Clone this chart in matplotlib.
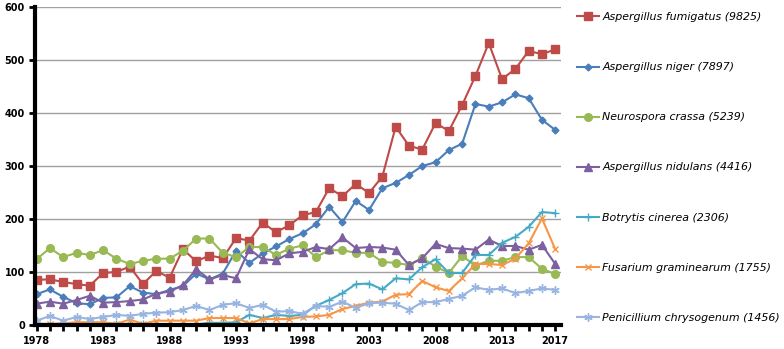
import numpy as np
import matplotlib
matplotlib.use("Agg")
import matplotlib.pyplot as plt

years = list(range(1978, 2018))

fumigatus = [85, 86, 81, 77, 74, 98, 100, 110, 77, 102, 89, 143, 120, 131, 126, 164, 159, 193, 175, 188,
             207, 213, 258, 243, 266, 249, 280, 374, 338, 331, 381, 366, 415, 470, 532, 464, 483, 517, 511, 520]
niger = [58, 67, 53, 41, 39, 51, 52, 73, 61, 58, 66, 73, 97, 86, 97, 140, 117, 135, 148, 162,
         173, 190, 223, 194, 234, 217, 258, 268, 283, 300, 307, 330, 342, 417, 412, 420, 435, 428, 387, 368]
crassa = [124, 145, 128, 136, 132, 141, 125, 115, 121, 125, 125, 140, 163, 163, 136, 128, 147, 147, 132, 144,
          150, 128, 141, 141, 136, 136, 119, 117, 113, 126, 110, 98, 130, 112, 121, 121, 128, 128, 106, 96]
nidulans = [40, 44, 40, 47, 55, 42, 43, 45, 48, 59, 63, 75, 105, 86, 94, 88, 143, 124, 122, 135,
            138, 147, 143, 165, 145, 147, 146, 142, 113, 126, 153, 145, 144, 142, 161, 149, 149, 142, 151, 115]
botrytis = [0, 0, 1, 1, 1, 2, 1, 2, 1, 1, 1, 1, 1, 4, 4, 5, 19, 13, 19, 17,
            19, 36, 47, 60, 77, 78, 67, 88, 86, 109, 124, 98, 98, 132, 132, 155, 166, 185, 213, 211]
fusarium = [2, 2, 3, 5, 5, 5, 2, 10, 2, 8, 8, 8, 8, 13, 13, 13, 3, 11, 11, 11,
            15, 16, 19, 30, 36, 42, 44, 57, 58, 83, 71, 64, 88, 115, 115, 113, 125, 154, 201, 143]
chrysogenum = [8, 17, 8, 15, 11, 15, 19, 17, 21, 23, 24, 28, 36, 28, 38, 41, 32, 38, 25, 26,
               21, 36, 34, 44, 32, 41, 42, 40, 28, 43, 43, 49, 55, 71, 66, 69, 60, 64, 69, 66]

labels = ["Aspergillus fumigatus (9825)", "Aspergillus niger (7897)", "Neurospora crassa (5239)",
          "Aspergillus nidulans (4416)", "Botrytis cinerea (2306)", "Fusarium graminearum (1755)",
          "Penicillium chrysogenum (1456)"]
xtick_years = [1978, 1983, 1988, 1993, 1998, 2003, 2008, 2013, 2017]

series = [fumigatus, niger, crassa, nidulans, botrytis, fusarium, chrysogenum]
colors = ["#BE4B48", "#4A7EBB", "#98B954", "#7D60A0", "#46AAC5", "#F79646", "#98B4E0"]
markers = ["s", "D", "o", "^", "+", "x", (6, 2, 0)]
msizes = [6, 3.5, 5.5, 5.5, 6, 5, 6]

fig = plt.figure(figsize=(7.84, 3.49), dpi=100)
ax = fig.add_axes([0.045, 0.069, 0.67, 0.911])

for vals, lab, c, m, ms in zip(series, labels, colors, markers, msizes):
    ax.plot(years, vals, color=c, marker=m, markersize=ms, linewidth=1.5,
            markeredgewidth=1.0, label=lab)

ax.set_xlim(1977.9, 2017.4)
ax.set_ylim(0, 600)
ax.set_yticks(range(0, 601, 100))
ax.set_xticks(xtick_years)
ax.set_xticks(years, minor=True)
ax.grid(axis="y", color="#a0a0a0", linewidth=1)
ax.set_axisbelow(True)

for s in ["top", "right"]:
    ax.spines[s].set_visible(False)
ax.spines["left"].set_linewidth(3)
ax.spines["bottom"].set_linewidth(3)
ax.tick_params(axis="y", length=4, width=2, labelsize=7)
ax.tick_params(axis="x", which="both", length=4, width=2, labelsize=7, pad=4)
for t in ax.get_xticklabels() + ax.get_yticklabels():
    t.set_fontweight("bold")

leg = fig.legend(loc="upper left", bbox_to_anchor=(0.724, 0.993), frameon=False,
                 labelspacing=3.65, handlelength=2.0, handletextpad=0.25,
                 prop={"style": "italic", "size": 7.9})

fig.savefig("out.png", dpi=100)
